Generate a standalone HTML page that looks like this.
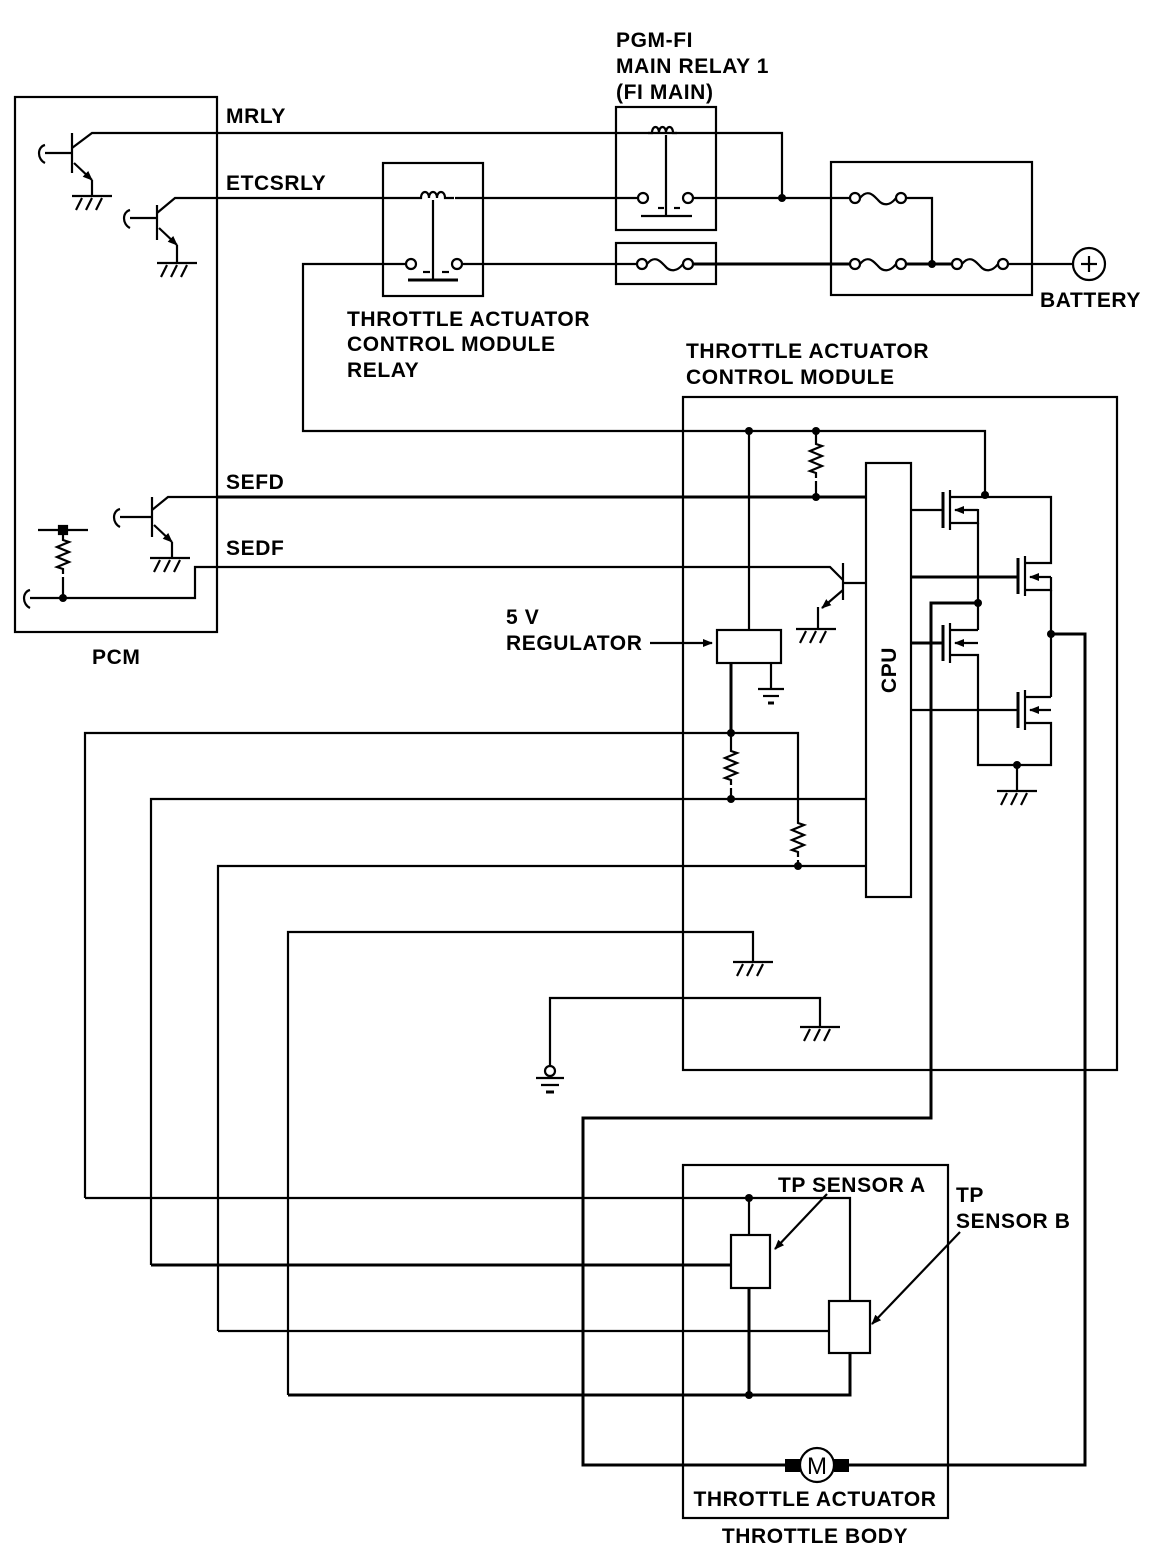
<!DOCTYPE html>
<html><head><meta charset="utf-8"><style>
html,body{margin:0;padding:0;background:#fff}
svg{display:block}
text{font-family:"Liberation Sans",Arial,sans-serif;font-weight:bold;font-size:21px;letter-spacing:0.6px;fill:#000}
</style></head><body>
<svg width="1152" height="1562" viewBox="0 0 1152 1562" xmlns="http://www.w3.org/2000/svg">
<defs>
<g id="gnd"><line x1="-20" y1="0" x2="20" y2="0"/><line x1="-10" y1="2" x2="-16" y2="14"/><line x1="0" y1="2" x2="-6" y2="14"/><line x1="10" y1="2" x2="4" y2="14"/></g>
<g id="res"><path d="M0,0 v6 l6,2 l-12,5 l12,5 l-12,5 l12,5 l-12,5 l6,2 v5" fill="none"/></g>
<g id="fuse"><circle cx="0" cy="0" r="5" fill="#fff"/><circle cx="46" cy="0" r="5" fill="#fff"/><path d="M5,0 c8,-10 14,-2 18,2 c5,6 12,6 18,-2" fill="none"/></g>
<marker id="ar" markerWidth="10" markerHeight="8" refX="9" refY="4" orient="auto" markerUnits="userSpaceOnUse"><path d="M0,0 L10,4 L0,8 z" fill="#000"/></marker>
</defs>
<g stroke="#000" stroke-width="2.2" fill="none">
<rect x="15" y="97" width="202" height="535"/>
<line x1="72" y1="133" x2="72" y2="173"/><line x1="45" y1="153" x2="72" y2="153"/>
<path d="M45,145 c-8,2 -8,14 0,18"/>
<path d="M72,148 L92,133 H782 V198"/>
<line x1="74" y1="163" x2="92" y2="180" marker-end="url(#ar)"/>
<line x1="92" y1="180" x2="92" y2="195"/>
<use href="#gnd" x="92" y="196"/>
<line x1="157" y1="205" x2="157" y2="240"/><line x1="130" y1="218" x2="157" y2="218"/>
<path d="M130,210 c-8,2 -8,14 0,18"/>
<path d="M157,213 L175,198 H415"/>
<line x1="159" y1="228" x2="177" y2="245" marker-end="url(#ar)"/>
<line x1="177" y1="245" x2="177" y2="262"/>
<use href="#gnd" x="177" y="263"/>
<rect x="383" y="163" width="100" height="133"/>
<path d="M415,198 h6 c0,-8 8,-8 8,0 c0,-8 8,-8 8,0 c0,-8 8,-8 8,0 h9"/>
<path d="M455,198 H638"/>
<line x1="433" y1="200" x2="433" y2="280"/>
<line x1="408" y1="280" x2="458" y2="280" stroke-width="3"/>
<line x1="423" y1="272" x2="430" y2="272"/><line x1="442" y1="272" x2="449" y2="272"/>
<circle cx="411" cy="264" r="5"/><circle cx="457" cy="264" r="5"/>
<path d="M406,264 H303 V431 H985 V497"/>
<line x1="462" y1="264" x2="637" y2="264"/>
<rect x="616" y="107" width="100" height="123"/>
<path d="M648,133 h4 c0,-8 7,-8 7,0 c0,-8 7,-8 7,0 c0,-8 7,-8 7,0 h4"/>
<line x1="666" y1="135" x2="666" y2="216"/>
<line x1="641" y1="216" x2="692" y2="216"/>
<line x1="658" y1="208" x2="664" y2="208"/><line x1="674" y1="208" x2="680" y2="208"/>
<circle cx="643" cy="198" r="5"/><circle cx="688" cy="198" r="5"/>
<line x1="693" y1="198" x2="850" y2="198"/>
<rect x="616" y="243" width="100" height="41"/>
<use href="#fuse" x="642" y="264"/>
<line x1="693" y1="264" x2="850" y2="264" stroke-width="3"/>
<rect x="831" y="162" width="201" height="133"/>
<use href="#fuse" x="855" y="198"/>
<use href="#fuse" x="855" y="264"/>
<use href="#fuse" x="957" y="264"/>
<path d="M905,198 H932 V264"/>
<line x1="905" y1="264" x2="952" y2="264" stroke-width="3"/>
<line x1="1008" y1="264" x2="1073" y2="264"/>
<circle cx="1089" cy="264" r="16"/>
<line x1="1081" y1="264" x2="1097" y2="264"/><line x1="1089" y1="256" x2="1089" y2="272"/>
<rect x="683" y="397" width="434" height="673"/>
<use href="#res" x="816" y="438"/>
<line x1="816" y1="431" x2="816" y2="438"/><line x1="816" y1="481" x2="816" y2="497"/>
<line x1="152" y1="497" x2="152" y2="537"/><line x1="120" y1="517" x2="152" y2="517"/>
<path d="M120,509 c-8,2 -8,14 0,18"/>
<path d="M152,510 L168,497 H866" />
<line x1="217" y1="497" x2="866" y2="497" stroke-width="3"/>
<line x1="154" y1="525" x2="172" y2="542" marker-end="url(#ar)"/>
<line x1="172" y1="542" x2="172" y2="557"/>
<use href="#gnd" x="170" y="558"/>
<line x1="38" y1="530" x2="88" y2="530"/>
<rect x="59" y="526" width="8" height="8" fill="#000"/>
<use href="#res" x="63" y="534"/>
<line x1="63" y1="577" x2="63" y2="598"/>
<path d="M30,590 c-8,2 -8,14 0,18"/>
<path d="M30,598 H195 V567 H830 L843,580"/>
<line x1="843" y1="563" x2="843" y2="600"/><line x1="843" y1="583" x2="866" y2="583"/>
<line x1="843" y1="590" x2="822" y2="608" marker-end="url(#ar)"/>
<line x1="818" y1="607" x2="818" y2="628"/>
<use href="#gnd" x="816" y="629"/>
<rect x="866" y="463" width="45" height="434"/>
<line x1="749" y1="431" x2="749" y2="630"/>
<rect x="717" y="630" width="64" height="33"/>
<line x1="650" y1="643" x2="712" y2="643" marker-end="url(#ar)"/>
<line x1="771" y1="663" x2="771" y2="689"/>
<line x1="758" y1="689" x2="784" y2="689"/><line x1="763" y1="696" x2="779" y2="696"/><line x1="768" y1="703" x2="774" y2="703" stroke-width="3"/>
<line x1="731" y1="663" x2="731" y2="733" stroke-width="3"/>
<use href="#res" x="731" y="745"/>
<line x1="731" y1="733" x2="731" y2="745"/><line x1="731" y1="788" x2="731" y2="799"/>
<path d="M85,1198 V733 H798 V817"/>
<use href="#res" x="798" y="817"/>
<line x1="798" y1="860" x2="798" y2="866"/>
<path d="M151,1265 V799 H866"/>
<path d="M218,1331 V866 H866"/>
<path d="M288,1395 V932 H753 V961"/>
<use href="#gnd" x="753" y="962"/>
<path d="M550,1066 V998 H820 V1026"/>
<use href="#gnd" x="820" y="1027"/>
<circle cx="550" cy="1071" r="5"/>
<line x1="536" y1="1078" x2="564" y2="1078"/><line x1="541" y1="1085" x2="559" y2="1085"/><line x1="546" y1="1092" x2="554" y2="1092" stroke-width="3"/>
<line x1="911" y1="510" x2="943" y2="510"/>
<line x1="943" y1="492" x2="943" y2="528" stroke-width="3"/>
<line x1="950" y1="490" x2="950" y2="530"/>
<path d="M950,497 H1051 V563 H1025"/>
<path d="M950,523 H978 V509"/><line x1="978" y1="510" x2="955" y2="510" marker-end="url(#ar)"/>
<line x1="978" y1="523" x2="978" y2="630"/>
<line x1="911" y1="577" x2="1018" y2="577" stroke-width="3"/>
<line x1="1018" y1="558" x2="1018" y2="594" stroke-width="3"/>
<line x1="1025" y1="556" x2="1025" y2="596"/>
<path d="M1025,590 H1051 V577"/><line x1="1051" y1="577" x2="1030" y2="577" marker-end="url(#ar)"/>
<line x1="1051" y1="590" x2="1051" y2="697"/>
<line x1="911" y1="643" x2="943" y2="643" stroke-width="3"/>
<line x1="943" y1="625" x2="943" y2="661" stroke-width="3"/>
<line x1="950" y1="623" x2="950" y2="663"/>
<path d="M950,630 H978"/>
<line x1="978" y1="643" x2="955" y2="643" marker-end="url(#ar)"/>
<path d="M950,655 H978 V765 H1051 V723 H1025"/>
<line x1="911" y1="710" x2="1018" y2="710"/>
<line x1="1018" y1="692" x2="1018" y2="728" stroke-width="3"/>
<line x1="1025" y1="690" x2="1025" y2="730"/>
<path d="M1025,697 H1051"/>
<line x1="1051" y1="710" x2="1030" y2="710" marker-end="url(#ar)"/>
<line x1="1017" y1="765" x2="1017" y2="790"/>
<use href="#gnd" x="1017" y="791"/>
<path d="M978,603 H931 V1118 H583 V1465 H785" stroke-width="3"/>
<path d="M1051,634 H1085 V1465 H849" stroke-width="3"/>
<rect x="683" y="1165" width="265" height="353"/>
<path d="M85,1198 H850 V1301"/>
<line x1="749" y1="1198" x2="749" y2="1235"/>
<rect x="731" y="1235" width="39" height="53"/>
<line x1="749" y1="1288" x2="749" y2="1395" stroke-width="3"/>
<line x1="151" y1="1265" x2="731" y2="1265" stroke-width="3"/>
<rect x="829" y="1301" width="41" height="52"/>
<line x1="218" y1="1331" x2="829" y2="1331"/>
<path d="M288,1395 H850 V1353" stroke-width="3"/>
<line x1="827" y1="1194" x2="775" y2="1249" marker-end="url(#ar)"/>
<line x1="960" y1="1232" x2="872" y2="1324" marker-end="url(#ar)"/>
<circle cx="817" cy="1465" r="17" fill="#fff"/>
</g>
<g fill="#000">
<circle cx="782" cy="198" r="4"/><circle cx="932" cy="264" r="4"/>
<circle cx="749" cy="431" r="4"/><circle cx="816" cy="431" r="4"/><circle cx="816" cy="497" r="4"/>
<circle cx="985" cy="495" r="4"/><circle cx="63" cy="598" r="4"/>
<circle cx="978" cy="603" r="4"/><circle cx="1051" cy="634" r="4"/><circle cx="1017" cy="765" r="4"/>
<circle cx="731" cy="733" r="4"/><circle cx="731" cy="799" r="4"/><circle cx="798" cy="866" r="4"/>
<circle cx="749" cy="1198" r="4"/><circle cx="749" cy="1395" r="4"/>
<rect x="785" y="1459" width="15" height="13"/><rect x="834" y="1459" width="15" height="13"/>
</g>
<text x="817" y="1474" text-anchor="middle" style="font-weight:normal;font-size:24px;letter-spacing:0">M</text>
<text x="616" y="47">PGM-FI</text>
<text x="616" y="73">MAIN RELAY 1</text>
<text x="616" y="99">(FI MAIN)</text>
<text x="226" y="123">MRLY</text>
<text x="226" y="190">ETCSRLY</text>
<text x="347" y="326">THROTTLE ACTUATOR</text>
<text x="347" y="351">CONTROL MODULE</text>
<text x="347" y="377">RELAY</text>
<text x="1040" y="307">BATTERY</text>
<text x="686" y="358">THROTTLE ACTUATOR</text>
<text x="686" y="384">CONTROL MODULE</text>
<text x="226" y="489">SEFD</text>
<text x="226" y="555">SEDF</text>
<text x="92" y="664">PCM</text>
<text x="506" y="624">5 V</text>
<text x="506" y="650">REGULATOR</text>
<text transform="translate(896,670) rotate(-90)" text-anchor="middle">CPU</text>
<text x="778" y="1192">TP SENSOR A</text>
<text x="956" y="1202">TP</text>
<text x="956" y="1228">SENSOR B</text>
<text x="815" y="1506" text-anchor="middle">THROTTLE ACTUATOR</text>
<text x="815" y="1543" text-anchor="middle">THROTTLE BODY</text>
</svg>
</body></html>
